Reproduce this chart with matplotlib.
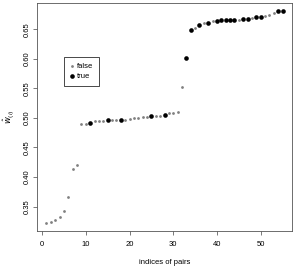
import numpy as np
import matplotlib
matplotlib.use('Agg')
import matplotlib.pyplot as plt

plt.rcParams['font.family'] = ['Liberation Sans', 'DejaVu Sans']

# indices of pairs and estimated weights
idx = np.arange(1, 56)
w_hat = [0.323, 0.324, 0.327, 0.332, 0.342, 0.366, 0.413, 0.420,
         0.489, 0.490, 0.492, 0.494, 0.495, 0.495, 0.496, 0.496, 0.496, 0.496,
         0.497, 0.498, 0.499, 0.500, 0.501, 0.502, 0.503, 0.504, 0.504, 0.505,
         0.508, 0.509, 0.510, 0.553, 0.602,
         0.649, 0.652, 0.657, 0.660, 0.661, 0.663, 0.664, 0.665, 0.665, 0.665,
         0.665, 0.666, 0.667, 0.668, 0.669, 0.670, 0.671, 0.672, 0.674, 0.677,
         0.680, 0.680]
true_idx = [11, 15, 18, 25, 28, 33, 34, 36, 38, 40, 41, 42, 43, 44, 46, 47,
            49, 50, 54, 55]

w_hat = np.array(w_hat)
is_true = np.isin(idx, true_idx)

fig = plt.figure(figsize=(2.96, 2.70), dpi=100)
ax = fig.add_axes([37 / 296, 1 - 231 / 270, 255 / 296, 228 / 270])

ax.scatter(idx[~is_true], w_hat[~is_true], s=4, color='#808080', lw=0, label='false')
ax.scatter(idx[is_true], w_hat[is_true], s=11, color='black', lw=0, label='true')

# R style 4% expansion
xr = idx.max() - idx.min()
yr = w_hat.max() - w_hat.min()
ax.set_xlim(idx.min() - 0.04 * xr, idx.max() + 0.04 * xr)
ax.set_ylim(w_hat.min() - 0.04 * yr, w_hat.max() + 0.04 * yr)

ax.set_xticks([0, 10, 20, 30, 40, 50])
ax.set_yticks([0.35, 0.40, 0.45, 0.50, 0.55, 0.60, 0.65])
ax.set_yticklabels(['0.35', '0.40', '0.45', '0.50', '0.55', '0.60', '0.65'],
                   rotation=90, va='center')
ax.tick_params(axis='x', length=3, width=0.5, labelsize=5.5, pad=4.5, color='#444444')
ax.tick_params(axis='y', length=3, width=0.5, labelsize=5.5, pad=1.5, color='#444444')
for s in ax.spines.values():
    s.set_linewidth(0.6)
    s.set_color('#555555')

fig.text(165 / 296, 1 - 263 / 270, 'indices of pairs', ha='center', va='center', fontsize=5.5)
fig.text(9 / 296, 1 - 117 / 270, r'$\hat{w}_{(i)}$', ha='center', va='center',
         rotation=90, fontsize=6)

leg = ax.legend(loc='upper left', bbox_to_anchor=(64 / 296, 1 - 57 / 270),
                bbox_transform=fig.transFigure, fontsize=5.5, fancybox=False,
                framealpha=1, edgecolor='black', handletextpad=0.3,
                handlelength=0.6, borderpad=0.8, labelspacing=0.3,
                scatterpoints=1, borderaxespad=0)
leg.get_frame().set_linewidth(0.5)

fig.savefig('out.png', dpi=100)
